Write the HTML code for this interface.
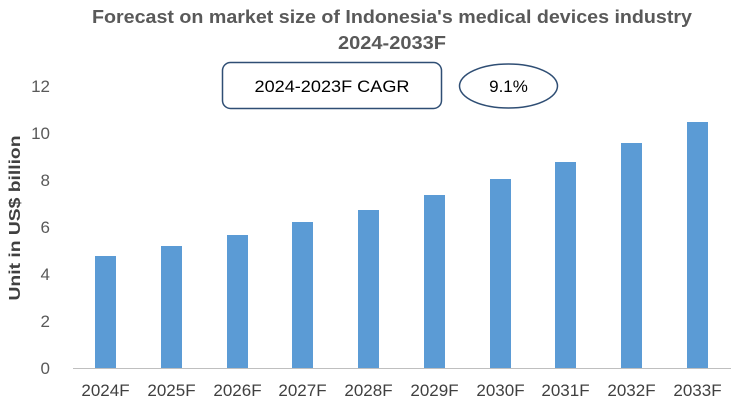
<!DOCTYPE html>
<html><head><meta charset="utf-8"><style>
body{margin:0;background:#fff;}
svg{display:block;font-family:"Liberation Sans",sans-serif;}
</style></head><body>
<svg width="750" height="410" viewBox="0 0 750 410">
<text x="392" y="23" text-anchor="middle" font-size="18" font-weight="bold" fill="#595959" textLength="600" lengthAdjust="spacingAndGlyphs">Forecast on market size of Indonesia's medical devices industry</text>
<text x="392" y="49" text-anchor="middle" font-size="18" font-weight="bold" fill="#595959" textLength="108" lengthAdjust="spacingAndGlyphs">2024-2033F</text>
<rect x="222.5" y="62.5" width="219" height="46" rx="8" fill="#fff" stroke="#2f4e74" stroke-width="1.5"/>
<text x="332" y="92" text-anchor="middle" font-size="17" fill="#000" textLength="155" lengthAdjust="spacingAndGlyphs">2024-2023F CAGR</text>
<ellipse cx="508.5" cy="86" rx="49" ry="22" fill="#fff" stroke="#2f4e74" stroke-width="1.5"/>
<text x="508.5" y="92" text-anchor="middle" font-size="17" fill="#000">9.1%</text>
<g font-size="17" fill="#595959" text-anchor="end">
<text x="50" y="374">0</text><text x="50" y="327">2</text><text x="50" y="280">4</text>
<text x="50" y="233">6</text><text x="50" y="186">8</text><text x="50" y="139">10</text><text x="50" y="92">12</text>
</g>
<text transform="translate(20,218) rotate(-90)" text-anchor="middle" font-size="16" font-weight="bold" fill="#404040" textLength="165" lengthAdjust="spacingAndGlyphs">Unit in US$ billion</text>
<g fill="#5b9bd5">
<rect x="95" y="256" width="21" height="112"/>
<rect x="161" y="246" width="21" height="122"/>
<rect x="227" y="235" width="21" height="133"/>
<rect x="292" y="222" width="21" height="146"/>
<rect x="358" y="210" width="21" height="158"/>
<rect x="424" y="195" width="21" height="173"/>
<rect x="490" y="179" width="21" height="189"/>
<rect x="555" y="162" width="21" height="206"/>
<rect x="621" y="143" width="21" height="225"/>
<rect x="687" y="122" width="21" height="246"/>
</g>
<line x1="73" y1="368.5" x2="731" y2="368.5" stroke="#bfbfbf" stroke-width="1"/>
<g font-size="17" fill="#404040" text-anchor="middle">
<text x="105.5" y="396">2024F</text><text x="171.5" y="396">2025F</text><text x="237.5" y="396">2026F</text>
<text x="302.5" y="396">2027F</text><text x="368.5" y="396">2028F</text><text x="434.5" y="396">2029F</text>
<text x="500.5" y="396">2030F</text><text x="565.5" y="396">2031F</text><text x="631.5" y="396">2032F</text>
<text x="697.5" y="396">2033F</text>
</g>
</svg>
</body></html>
